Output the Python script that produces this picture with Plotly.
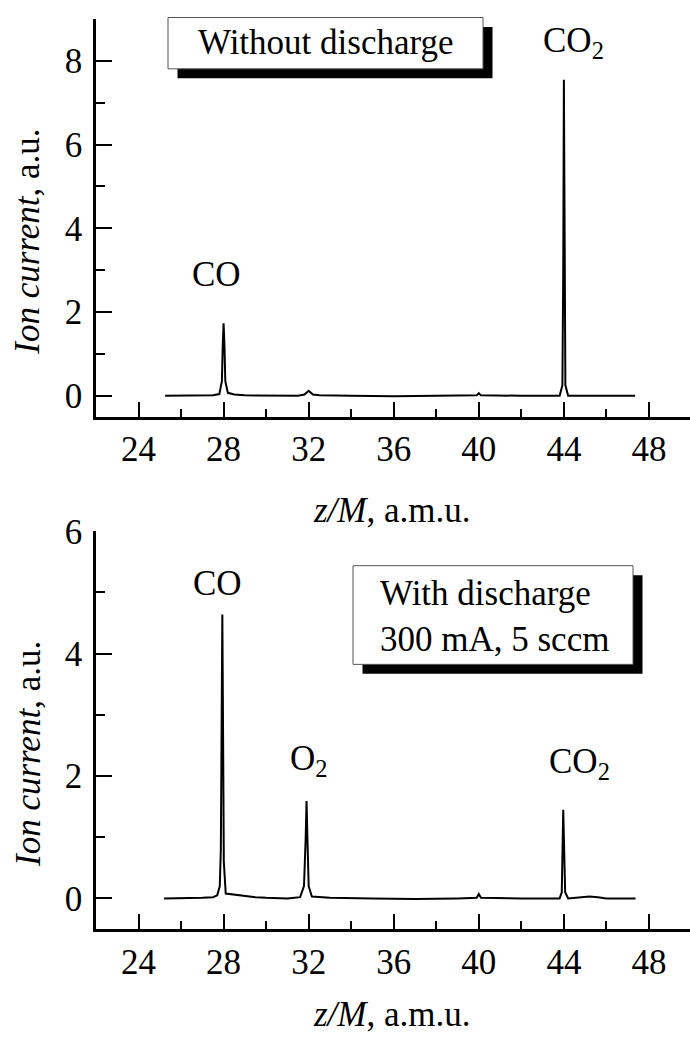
import plotly.graph_objects as go

# ---------------- data ----------------
mass_top = [25.25, 26.0, 27.0, 27.5, 27.8, 27.92, 27.96, 28.0, 28.04, 28.08, 28.2, 28.5, 29.0, 30.0,
            31.5, 31.8, 32.0, 32.2, 32.5, 34.0, 36.0, 38.0, 39.9, 40.0, 40.1, 42.0,
            43.8, 43.93, 43.97, 44.0, 44.03, 44.07, 44.2, 46.0, 47.35]
current_top = [0.0, 0.0, 0.0, 0.01, 0.04, 0.35, 1.2, 1.73, 1.2, 0.35, 0.07, 0.03, 0.01, 0.0,
               0.0, 0.03, 0.12, 0.03, 0.01, 0.0, -0.01, 0.0, 0.01, 0.06, 0.01, 0.0,
               0.0, 0.25, 3.0, 7.55, 3.0, 0.25, 0.0, 0.0, 0.0]

mass_bot = [25.2, 26.0, 27.0, 27.5, 27.7, 27.82, 27.87, 27.91, 27.94, 27.97, 28.01, 28.1, 28.5, 29.0,
            29.5, 30.0, 31.0, 31.6, 31.78, 31.86, 31.9, 31.94, 32.0, 32.15, 33.0, 35.0, 37.0,
            39.0, 39.9, 40.0, 40.1, 42.0, 43.8, 43.9, 43.94, 43.97, 44.0, 44.06, 44.2,
            44.8, 45.2, 45.6, 46.0, 47.37]
current_bot = [0.0, 0.0, 0.01, 0.02, 0.05, 0.2, 0.8, 3.0, 4.64, 3.0, 0.6, 0.08, 0.06, 0.04,
               0.02, 0.01, 0.0, 0.02, 0.2, 1.0, 1.59, 1.0, 0.2, 0.03, 0.01, 0.0, -0.01,
               0.0, 0.01, 0.07, 0.01, 0.0, 0.0, 0.1, 1.0, 1.45, 1.0, 0.1, 0.0,
               0.02, 0.03, 0.02, 0.0, 0.0]

x_tick_vals = [24, 28, 32, 36, 40, 44, 48]
y_tick_vals_top = [0, 2, 4, 6, 8]
y_tick_vals_bot = [0, 2, 4, 6]

# ---------------- layout geometry ----------------
W, H = 690, 1037
ML, MR, MT, MB = 96, 0, 16, 108
PW, PH = W - ML - MR, H - MT - MB


def px_x(px):
    return (px - ML) / PW


def px_y(py):
    return (H - MB - py) / PH


top_dom = [px_y(415), 1.0]
bot_dom = [0.0, px_y(530)]

FONT = "Liberation Serif, Times New Roman, serif"
FS = 35

fig = go.Figure()
fig.add_trace(go.Scatter(x=mass_top, y=current_top, mode="lines",
                         line=dict(color="black", width=2), xaxis="x", yaxis="y",
                         showlegend=False, hoverinfo="skip"))
fig.add_trace(go.Scatter(x=mass_bot, y=current_bot, mode="lines",
                         line=dict(color="black", width=2), xaxis="x2", yaxis="y2",
                         showlegend=False, hoverinfo="skip"))

xcommon = dict(range=[22, 49.93], tickmode="array", tickvals=x_tick_vals,
               ticks="inside", ticklen=15, tickwidth=2, tickcolor="black",
               showline=True, linewidth=2.5, linecolor="black", showgrid=False,
               zeroline=False, ticklabelstandoff=0,
               tickfont=dict(family=FONT, size=FS, color="black"),
               minor=dict(ticks="inside", ticklen=8, tickwidth=2, tickcolor="black",
                          tickmode="array", tickvals=[26, 30, 34, 38, 42, 46], showgrid=False))
ycommon = dict(ticks="inside", ticklen=16, tickwidth=2, tickcolor="black",
               showline=True, linewidth=2.5, linecolor="black", showgrid=False,
               zeroline=False, ticklabelstandoff=4,
               tickfont=dict(family=FONT, size=FS, color="black"))

fig.update_layout(
    width=W, height=H,
    margin=dict(l=ML, r=MR, t=MT, b=MB, pad=0),
    paper_bgcolor="white", plot_bgcolor="white",
    font=dict(family=FONT, size=FS, color="black"),
    xaxis=dict(xcommon, anchor="y"),
    yaxis=dict(ycommon, domain=top_dom, anchor="x", range=[-0.5, 9.0],
               tickmode="array", tickvals=y_tick_vals_top,
               minor=dict(ticks="inside", ticklen=9, tickwidth=2, tickcolor="black",
                          tickmode="array", tickvals=[1, 3, 5, 7, 8.999], showgrid=False)),
    xaxis2=dict(xcommon, anchor="y2"),
    yaxis2=dict(ycommon, domain=bot_dom, anchor="x2", range=[-0.5, 6.0],
                tickmode="array", tickvals=y_tick_vals_bot,
                minor=dict(ticks="inside", ticklen=9, tickwidth=2, tickcolor="black",
                           tickmode="array", tickvals=[1, 3, 5], showgrid=False)),
)

shapes = []
annotations = []


def framed_box(x0, y0, x1, y1, off=9.5):
    shapes.append(dict(type="rect", xref="paper", yref="paper",
                       x0=px_x(x0 + off), x1=px_x(x1 + off), y0=px_y(y1 + off), y1=px_y(y0 + off),
                       fillcolor="black", line=dict(width=0), layer="above"))
    shapes.append(dict(type="rect", xref="paper", yref="paper",
                       x0=px_x(x0), x1=px_x(x1), y0=px_y(y1), y1=px_y(y0),
                       fillcolor="white", line=dict(color="#555555", width=1), layer="above"))


framed_box(168, 14.5, 483, 66)
framed_box(353, 564.5, 633, 663.5)

annotations.append(dict(xref="paper", yref="paper", x=px_x(325.5), y=px_y(40),
                        text="Without discharge", showarrow=False,
                        xanchor="center", yanchor="middle", font=dict(size=FS)))
annotations.append(dict(xref="paper", yref="paper", x=px_x(378), y=px_y(615.5),
                        text="With discharge<br>300 mA, 5 sccm", showarrow=False,
                        align="left", xanchor="left", yanchor="middle", font=dict(size=FS)))

# peak labels
peak_labels = [
    ("x", "y", 27.66, 2.9, "CO"),
    ("x", "y", 44.45, 8.45, "CO<sub>2</sub>"),
    ("x2", "y2", 27.7, 5.15, "CO"),
    ("x2", "y2", 32.0, 2.25, "O<sub>2</sub>"),
    ("x2", "y2", 44.75, 2.2, "CO<sub>2</sub>"),
]
for xr, yr, xv, yv, txt in peak_labels:
    annotations.append(dict(xref=xr, yref=yr, x=xv, y=yv, text=txt, showarrow=False,
                            xanchor="center", yanchor="middle", font=dict(size=FS)))

# axis titles
for ytop, ybot, tgap in [(16, 415, 94), (530, 929, 86)]:
    annotations.append(dict(xref="paper", yref="paper", x=px_x(28),
                            y=px_y(ybot - 0.44 * (ybot - ytop)),
                            text="<i>Ion current</i>, a.u.", textangle=-90, showarrow=False,
                            xanchor="center", yanchor="middle", font=dict(size=FS)))
    annotations.append(dict(xref="paper", yref="paper", x=px_x(392),
                            y=px_y(ybot + tgap),
                            text="<i>z/M</i>, a.m.u.", showarrow=False,
                            xanchor="center", yanchor="middle", font=dict(size=FS)))

fig.update_layout(shapes=shapes, annotations=annotations)
fig.write_html("out.html")
